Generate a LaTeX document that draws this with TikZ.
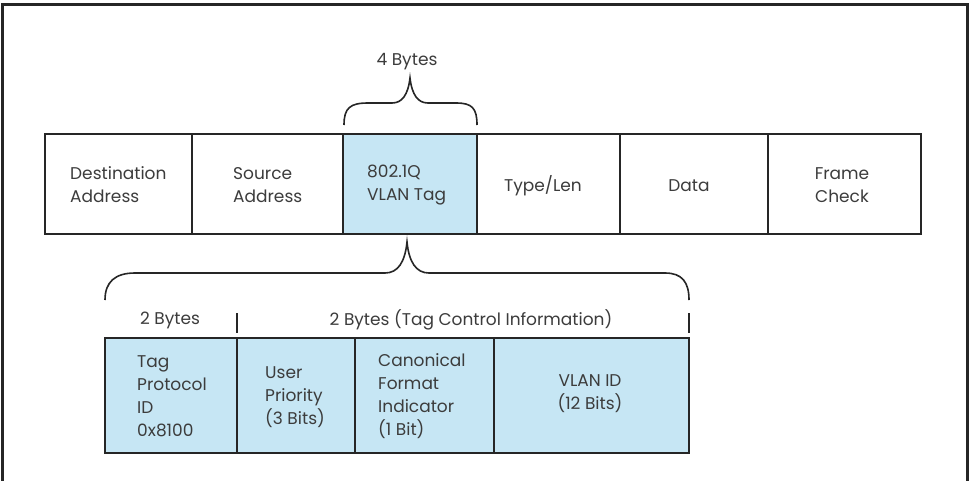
\documentclass[tikz,border=0pt]{standalone}
\usepackage{fontspec}
\setmainfont{Poppins}
\definecolor{tagblue}{RGB}{198,230,244}
\definecolor{inkline}{RGB}{38,38,38}
\definecolor{inktext}{RGB}{60,60,60}
\begin{document}
\begin{tikzpicture}[x=1pt,y=-1pt,
  cell/.style={draw=inkline, line width=1.6pt, inner sep=0pt, anchor=center},
  bluecell/.style={cell, fill=tagblue},
  lbl/.style={text=inktext, inner sep=0pt, font=\fontsize{17}{23}\selectfont},
  lleft/.style={lbl, align=left, anchor=west},
  lmid/.style={lbl, align=center, anchor=center},
  bracket/.style={draw=inkline, line width=1.6pt}]
\useasboundingbox (0,0) rectangle (972,480);
\fill[white] (0,0) rectangle (972,480);
\draw[inkline, line width=3pt] (2,4.5) rectangle (967,520);

% top frame row
\node[cell, minimum width=147pt, minimum height=100pt] (dst) at (118.5,184) {};
\node[cell, minimum width=151pt, minimum height=100pt] (src) at (267.5,184) {};
\node[bluecell, minimum width=134pt, minimum height=100pt] (tag) at (410,184) {};
\node[cell, minimum width=143pt, minimum height=100pt] (typ) at (548.5,184) {};
\node[cell, minimum width=148pt, minimum height=100pt] (dat) at (694,184) {};
\node[cell, minimum width=153pt, minimum height=100pt] (fcs) at (844.5,184) {};

\node[lleft] (tdst) at (70,185) {Destination\\Address};
\node[lleft] (tsrc) at (233,185) {Source\\Address};
\node[lleft] (ttag) at (367,185) {802.1Q\\VLAN Tag};
\node[lmid] (ttyp) at (543,186) {Type/Len};
\node[lmid] (tdat) at (689,186) {Data};
\node[lmid] (tfcs) at (842,185) {Frame\\Check};

% top brace
\node[lmid] (fourb) at (407,62) {4 Bytes};
\draw[bracket] (344,125) .. controls (344,108) and (350,103) .. (368,103) -- (392,103)
  .. controls (402,103) and (408,95) .. (410,78)
  .. controls (412,95) and (418,103) .. (428,103) -- (456,103)
  .. controls (472,103) and (477,108) .. (477,125);

% bottom brace
\draw[bracket] (105,300) .. controls (105,282) and (115,273) .. (135,273) -- (385,273)
  .. controls (398,273) and (405,262) .. (407,242)
  .. controls (409,262) and (416,273) .. (429,273) -- (665,273)
  .. controls (682,273) and (689,282) .. (689,300);

\node[lmid] (twob) at (170,320) {2 Bytes};
\node[lmid] (tci) at (471,320) {2 Bytes (Tag Control Information)};
\draw[bracket] (237,313) -- (237,333);
\draw[bracket] (689,313) -- (689,333);

% bottom tag detail row
\node[bluecell, minimum width=132pt, minimum height=115pt] (tpid) at (171,395.5) {};
\node[bluecell, minimum width=118pt, minimum height=115pt] (pri) at (296,395.5) {};
\node[bluecell, minimum width=139pt, minimum height=115pt] (cfi) at (424.5,395.5) {};
\node[bluecell, minimum width=195pt, minimum height=115pt] (vid) at (591.5,395.5) {};

\node[lleft] (ttpid) at (137,396) {Tag\\Protocol\\ID\\0x8100};
\node[lleft] (tpri) at (265,397) {User\\Priority\\(3 Bits)};
\node[lleft] (tcfi) at (378,396) {Canonical\\Format\\Indicator\\(1 Bit)};
\node[lmid] (tvid) at (590,394) {VLAN ID\\(12 Bits)};
\end{tikzpicture}
\end{document}
